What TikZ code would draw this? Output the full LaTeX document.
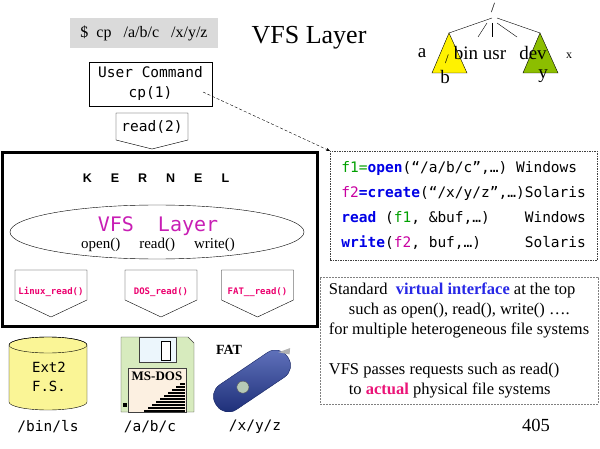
\documentclass[tikz,border=0pt]{standalone}
\usepackage{fontspec}
\setmainfont{Liberation Serif}
\setsansfont{Liberation Sans}
\setmonofont{DejaVu Sans Mono}
\usepackage{xcolor}
\usetikzlibrary{shapes,arrows,positioning,calc,arrows.meta}

\definecolor{cmdgray}{RGB}{218,218,218}
\definecolor{vfsmagenta}{RGB}{200,30,180}
\definecolor{readpink}{RGB}{235,0,110}
\definecolor{codeblue}{RGB}{0,0,230}
\definecolor{codegreen}{RGB}{0,160,0}
\definecolor{codemagenta}{RGB}{200,0,160}
\definecolor{ifblue}{RGB}{40,40,230}
\definecolor{actpink}{RGB}{235,20,120}
\definecolor{ext2yellow}{RGB}{250,245,150}
\definecolor{floppygreen}{RGB}{215,235,190}
\definecolor{labelpeach}{RGB}{252,240,225}
\definecolor{shutterblue}{RGB}{236,246,252}
\definecolor{usbblue}{RGB}{35,60,165}
\definecolor{treegreen}{RGB}{140,190,0}

\begin{document}
\begin{tikzpicture}[x=1pt, y=-1pt,
    cmdbox/.style={draw, align=center, font=\ttfamily\fontsize{14.5}{20}\selectfont},
    fscall/.style={font=\ttfamily\bfseries\fontsize{9}{10}\selectfont, text=readpink},
    devlabel/.style={font=\ttfamily\fontsize{14.5}{17}\selectfont},
    treelabel/.style={font=\fontsize{19}{21}\selectfont, inner sep=0pt}]
    \useasboundingbox (0,0) rectangle (600,449);

    % Shell command and title
    \node[fill=cmdgray, minimum width=148, minimum height=30, font=\fontsize{16}{18}\selectfont] (shell) at (144,33) {\$\ \ cp\ \ \ /a/b/c\ \ \ /x/y/z};
    \node[font=\fontsize{26}{30}\selectfont] (title) at (309,38) {VFS Layer};

    % Directory tree
    \node[font=\fontsize{14}{16}\selectfont, inner sep=0pt] (root) at (493,8) {/};
    \coordinate (yapex) at (449,33);
    \coordinate (gapex) at (540,33);
    \draw (492,18) -- (yapex);
    \draw (487,23) -- (478,37);
    \draw (492,23) -- (492,37);
    \draw (497,23) -- (517,37);
    \draw (497,18) -- (gapex);
    \draw[fill=yellow] (yapex) -- (467,73) -- (432,73) -- cycle;
    \draw[fill=treegreen] (gapex) -- (558,73) -- (523,73) -- cycle;
    \node[treelabel] (dira) at (422,53) {a};
    \node[treelabel] (dirbin) at (480,53) {bin usr};
    \node[treelabel] (dirdev) at (533,53) {dev};
    \node[font=\fontsize{12}{14}\selectfont, inner sep=0pt] (dirx) at (569,56) {x};
    \node[font=\fontsize{13}{15}\selectfont, inner sep=0pt] (subroot) at (447,59) {/};
    \node[treelabel] (dirb) at (445,77) {b};
    \node[treelabel] (diry) at (543,76) {y};

    % User command and system call
    \node[cmdbox, minimum width=123, minimum height=44] (usercmd) at (150.5,84) {User Command\\cp(1)};
    \draw (116,113) -- (188,113) -- (188,140) -- (152,149) -- (116,140) -- cycle;
    \node[font=\ttfamily\fontsize{14.5}{16}\selectfont] (readcall) at (152,127) {read(2)};

    % Kernel
    \node[draw, line width=3, minimum width=315, minimum height=173] (kernel) at (159.5,239.5) {};
    \node[font=\sffamily\bfseries\fontsize{12.5}{14}\selectfont] (kname) at (156,178)
        {K\hspace{19pt}E\hspace{19pt}R\hspace{19pt}N\hspace{19pt}E\hspace{19pt}L};
    \node[draw, ellipse, minimum width=294, minimum height=54] (vfs) at (157,232) {};
    \node[font=\ttfamily\fontsize{20}{22}\selectfont, text=vfsmagenta] (vfsname) at (158,226) {VFS~~Layer};
    \node[font=\fontsize{15}{17}\selectfont] (vfsops) at (158,245) {open()\hspace{19pt}read()\hspace{19pt}write()};
    \foreach \cx/\fsname/\fstext in {51/linux/Linux\_read(), 161/dos/DOS\_read(), 257.5/fat/FAT\_\_read()} {
        \draw (\cx-36,270) -- (\cx+36,270) -- (\cx+36,300) -- (\cx,317) -- (\cx-36,300) -- cycle;
        \node[fscall] (\fsname) at (\cx,292) {\fstext};
    }

    % Calls made by cp
    \node[draw=darkgray, dash pattern=on 1.5pt off 1pt, minimum width=267, minimum height=109, align=left,
        anchor=north west, font=\ttfamily\fontsize{14.5}{25}\selectfont] (code) at (330,151) {%
        \textcolor{codegreen}{f1=}\textcolor{codeblue}{\bfseries open}(“/a/b/c”,…)~Windows\\
        \textcolor{codemagenta}{f2}\textcolor{codeblue}{\bfseries =create}(“/x/y/z”,…)Solaris\\
        \textcolor{codeblue}{\bfseries read}~(\textcolor{codegreen}{f1},~\&buf,…)~~~~Windows\\
        \textcolor{codeblue}{\bfseries write}(\textcolor{codemagenta}{f2},~buf,…)~~~~~Solaris};
    \coordinate (cpref) at (203,92);
    \draw[densely dashed, -{Stealth[length=4pt,width=3pt]}] (cpref) -- (code.north west);

    % Notes
    \node[draw=gray, dash pattern=on 2pt off 1pt, minimum width=278, minimum height=127, align=left,
        font=\fontsize{16.5}{20}\selectfont] (notes) at (459,340.5) {%
        Standard\ \ \textcolor{ifblue}{\textbf{virtual interface}} at the top\\
        \hspace*{20pt}such as open(), read(), write() ….\\
        for multiple heterogeneous file systems\\[20pt]
        VFS passes requests such as read()\\
        \hspace*{20pt}to \textcolor{actpink}{\textbf{actual}} physical file systems};
    \node[font=\fontsize{18.5}{20}\selectfont] (pagenum) at (536,425) {405};

    % Ext2 disk
    \draw[fill=ext2yellow] (9,345) -- (9,402) arc[start angle=180, end angle=0, x radius=39, y radius=8]
        -- (87,345) arc[start angle=0, end angle=-180, x radius=39, y radius=8] -- cycle;
    \draw (48,345) ellipse[x radius=39, y radius=8];
    \node[align=center, font=\ttfamily\fontsize{14}{19}\selectfont] (ext2) at (49,377) {Ext2\\F.S.};
    \node[devlabel] (ext2path) at (48,427) {/bin/ls};

    % MS-DOS floppy
    \draw[draw=darkgray, fill=floppygreen] (121,337) -- (188,337) -- (194,343) -- (194,412) -- (121,412) -- cycle;
    \draw[draw=darkgray, fill=shutterblue] (139,337) rectangle (176,362);
    \draw[draw=black, fill=white] (161,341) rectangle (170,360);
    \draw[draw=darkgray, fill=labelpeach] (128,368) rectangle (186,412);
    \foreach \i in {0,...,9}
        \draw[line width=1.2] (180-4*\i,384+3*\i) -- (185,384+3*\i);
    \fill (123,403) rectangle (127,407);
    \node[font=\bfseries\fontsize{13}{15}\selectfont, fill=labelpeach, inner sep=0pt] (dosname) at (157,376) {MS-DOS};
    \node[devlabel] (dospath) at (150,427) {/a/b/c};

    % FAT usb stick
    \begin{scope}[shift={(252,381)}, rotate=34]
        \draw[draw=usbblue!60!black, top color=usbblue!70!white, bottom color=usbblue!70!black, rounded corners=14] (-43,-15) rectangle (43,15);
        \fill[gray!60] (38,-9) -- (50,-6) -- (46,-1) -- cycle;
        \draw[draw=gray!70!black, fill=green!15!gray!50] (-11,0) circle[radius=6];
    \end{scope}
    \node[font=\bfseries\fontsize{14}{16}\selectfont] (fatname) at (229,350) {FAT};
    \node[devlabel] (fatpath) at (255,427) {/x/y/z};
\end{tikzpicture}
\end{document}
